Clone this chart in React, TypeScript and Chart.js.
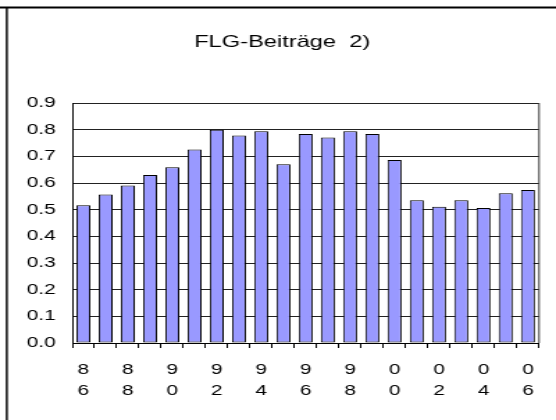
import React, { useEffect, useRef } from "react";
import { Chart, registerables } from "chart.js";

Chart.register(...registerables);

const TITLE = "FLG-Beiträge  2)";
const years = ["86", "87", "88", "89", "90", "91", "92", "93", "94", "95", "96", "97", "98", "99", "00", "01", "02", "03", "04", "05", "06"];
const values = [0.517, 0.557, 0.591, 0.63, 0.659, 0.726, 0.8, 0.778, 0.794, 0.67, 0.784, 0.771, 0.794, 0.784, 0.686, 0.535, 0.511, 0.535, 0.506, 0.562, 0.574];
const yMin = 0;
const yMax = 0.9;
const yStep = 0.1;

const FONT = '"Liberation Sans", Arial, Helvetica, sans-serif';
const CANVAS_W = 400; // drawn at 400 wide, shown stretched to 556 like the reference
const CANVAS_H = 420;

const decorPlugin = {
  id: "decor",
  beforeDatasetsDraw(chart: any) {
    const { ctx, chartArea } = chart;
    ctx.save();
    ctx.strokeStyle = "#333";
    ctx.lineWidth = 1;
    ctx.beginPath();
    ctx.moveTo(chartArea.right, chartArea.top);
    ctx.lineTo(chartArea.right, chartArea.bottom);
    ctx.stroke();
    ctx.restore();
  },
  afterDraw(chart: any) {
    const { ctx } = chart;
    ctx.save();
    // outer frame (left and top edges are the only visible ones)
    ctx.strokeStyle = "#000";
    ctx.lineWidth = 2;
    ctx.beginPath();
    ctx.moveTo(0, 7.5);
    ctx.lineTo(CANVAS_W, 7.5);
    ctx.stroke();
    ctx.lineWidth = 1.45;
    ctx.beginPath();
    ctx.moveTo(4.9, 7);
    ctx.lineTo(4.9, CANVAS_H);
    ctx.stroke();
    // title
    ctx.fillStyle = "#000";
    ctx.font = `17px ${FONT}`;
    ctx.textAlign = "center";
    ctx.textBaseline = "alphabetic";
    ctx.fillText(TITLE, 203, 47);
    ctx.restore();
  },
};

export default function App() {
  const ref = useRef<HTMLCanvasElement | null>(null);

  useEffect(() => {
    const canvas = ref.current;
    if (!canvas) return;
    const chart = new Chart(canvas, {
      type: "bar",
      data: {
        labels: years,
        datasets: [
          {
            data: values,
            backgroundColor: "#9999FF",
            borderColor: "#000",
            borderWidth: 1,
            borderSkipped: false,
            categoryPercentage: 1,
            barPercentage: 0.63,
          },
        ],
      },
      options: {
        responsive: false,
        animation: false,
        devicePixelRatio: 1,
        layout: { padding: { top: 103, right: 12.2, bottom: 0, left: 0 } },
        plugins: {
          legend: { display: false },
          title: { display: false },
          tooltip: { enabled: false },
        },
        scales: {
          x: {
            grid: {
              display: true,
              drawOnChartArea: false,
              drawTicks: true,
              tickLength: 5,
              offset: true,
              color: "#000",
              lineWidth: 1,
            },
            border: { display: true, color: "#000", width: 1 },
            ticks: {
              autoSkip: false,
              maxRotation: 0,
              minRotation: 0,
              padding: 12,
              color: "#000",
              font: { family: FONT, size: 15, lineHeight: 1.35 },
              callback: (_v: any, i: number) => (i % 2 === 0 ? years[i].split("") : ""),
            },
            afterFit: (s: any) => {
              s.height = 77;
            },
          },
          y: {
            min: yMin,
            max: yMax,
            grid: { color: "#222", lineWidth: 1, drawTicks: false },
            border: { display: true, color: "#000", width: 1 },
            ticks: {
              stepSize: yStep,
              padding: 12,
              color: "#000",
              font: { family: FONT, size: 15 },
              callback: (v: any) => Number(v).toFixed(1),
            },
            afterFit: (s: any) => {
              s.width = 52;
            },
          },
        },
      },
      plugins: [decorPlugin],
    });
    return () => chart.destroy();
  }, []);

  return (
    <div style={{ position: "absolute", left: 0, top: 0, width: 556, height: 420, background: "#fff" }}>
      <canvas
        ref={ref}
        width={CANVAS_W}
        height={CANVAS_H}
        style={{ width: "556px", height: "420px", display: "block" }}
      />
    </div>
  );
}
